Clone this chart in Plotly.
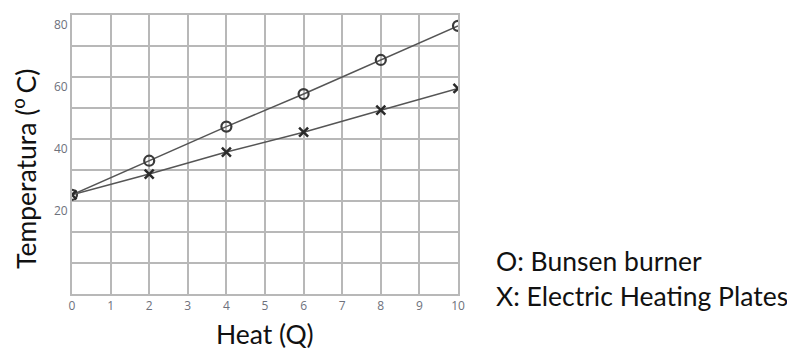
import plotly.graph_objects as go

heat = [0, 2, 4, 6, 8, 10]
bunsen = [22, 33, 44, 54.5, 65.5, 76.5]
electric = [22, 28.7, 35.8, 42.2, 49.3, 56.3]

x_ticks = list(range(0, 11))
y_grid = list(range(-10, 81, 10))
y_labels = [20, 40, 60, 80]

fig = go.Figure()
fig.add_trace(go.Scatter(
    x=heat, y=bunsen, mode="lines+markers", name="O: Bunsen burner",
    line=dict(color="#555555", width=1.5),
    marker=dict(symbol="circle-open", size=10, color="#3a3a3a", line=dict(width=2.2, color="#3a3a3a")),
))
fig.add_trace(go.Scatter(
    x=heat, y=electric, mode="lines+markers", name="X: Electric Heating Plates",
    line=dict(color="#555555", width=1.5),
    marker=dict(symbol="x-thin-open", size=9, color="#2a2a2a", line=dict(width=2.5, color="#2a2a2a")),
))

tick_font = dict(family="Open Sans", size=12, color="#6e717c")
for v in y_labels:
    fig.add_annotation(x=0, xref="paper", y=v, yref="y", text=str(v), showarrow=False,
                       xanchor="right", yanchor="middle", xshift=-2, yshift=-9, font=tick_font)

title_font = dict(family="Lato", size=26.5, color="#111111")
fig.add_annotation(x=0.5, xref="paper", y=0, yref="paper", text="Heat (Q)", showarrow=False,
                   xanchor="center", yanchor="middle", yshift=-40, font=title_font)
fig.add_annotation(x=0, xref="paper", y=0.448, yref="paper", text="Temperatura (<sup>o </sup>C)",
                   showarrow=False, textangle=-90, xanchor="center", yanchor="middle",
                   xshift=-48, font=title_font)

fig.add_annotation(x=1, xref="paper", y=0, yref="paper", text="O: Bunsen burner", showarrow=False,
                   xanchor="left", yanchor="middle", xshift=36, yshift=33, font=title_font)
fig.add_annotation(x=1, xref="paper", y=0, yref="paper", text="X: Electric Heating Plates", showarrow=False,
                   xanchor="left", yanchor="middle", xshift=36, yshift=-2, font=title_font)

fig.update_xaxes(range=[0, 10], tickvals=x_ticks, ticktext=[str(t) for t in x_ticks],
                 showgrid=True, gridcolor="#b8b8b8", gridwidth=2,
                 showline=True, linecolor="#b8b8b8", linewidth=2, mirror=True,
                 zeroline=False, ticks="", ticklabelstandoff=0,
                 tickfont=tick_font)
fig.update_yaxes(range=[-10, 80], tickvals=y_grid, showticklabels=False,
                 showgrid=True, gridcolor="#b8b8b8", gridwidth=2,
                 showline=True, linecolor="#b8b8b8", linewidth=2, mirror=True,
                 zeroline=False, ticks="")

# page body has an 8px default margin, so the figure is sized to fill the window
fig.update_layout(width=787, height=342, margin=dict(l=64, r=337, t=5, b=56),
                  paper_bgcolor="white", plot_bgcolor="white", showlegend=False)

fig.write_html("out.html")
